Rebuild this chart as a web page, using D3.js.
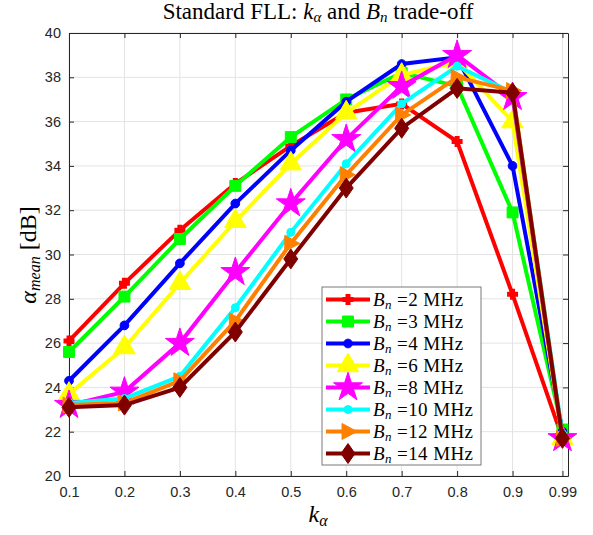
<!DOCTYPE html>
<html>
<head>
<meta charset="utf-8">
<script src="https://cdn.jsdelivr.net/npm/d3@7"></script>
<style>
  body { margin: 0; background: #fff; }
  svg { display: block; }
</style>
</head>
<body>
<div id="graph"></div>
<script>
// k_alpha values on the x axis
var kAlpha = [0.1, 0.2, 0.3, 0.4, 0.5, 0.6, 0.7, 0.8, 0.9, 0.99];
var xTicks = [0.1, 0.2, 0.3, 0.4, 0.5, 0.6, 0.7, 0.8, 0.9, 0.99];
var yTicks = [20, 22, 24, 26, 28, 30, 32, 34, 36, 38, 40];

// alpha_mean [dB] for each Bn
var bn2  = [26.1, 28.7, 31.1, 33.2, 34.9, 36.4, 36.8, 35.1, 28.2, 21.7];
var bn3  = [25.6, 28.1, 30.7, 33.1, 35.3, 37.0, 38.2, 37.6, 31.9, 22.1];
var bn4  = [24.3, 26.8, 29.6, 32.3, 34.7, 36.9, 38.6, 38.9, 34.0, 22.0];
var bn6  = [23.7, 25.8, 28.7, 31.5, 34.1, 36.4, 38.1, 38.7, 36.0, 21.7];
var bn8  = [23.2, 23.8, 26.0, 29.2, 32.3, 35.2, 37.6, 39.0, 37.1, 21.7];
var bn10 = [23.3, 23.5, 24.5, 27.6, 31.0, 34.1, 36.8, 38.5, 37.3, 21.9];
var bn12 = [23.2, 23.3, 24.3, 27.0, 30.5, 33.6, 36.3, 38.0, 37.4, 21.7];
var bn14 = [23.1, 23.2, 24.0, 26.5, 29.8, 33.0, 35.7, 37.5, 37.3, 21.7];

var seriesNames = ["2", "3", "4", "6", "8", "10", "12", "14"];
var seriesValues = [bn2, bn3, bn4, bn6, bn8, bn10, bn12, bn14];
var seriesColors = ["#ff0000", "#00ff00", "#0000ff", "#ffff00", "#ff00ff", "#00ffff", "#ff8000", "#800000"];
var seriesMarkers = ["plus", "square", "circle", "triangle", "star", "dot", "right", "diamond"];

var width = 593, height = 535;
var margin = {top: 33, right: 25, bottom: 59, left: 69};

var svg = d3.select("#graph").append("svg")
    .attr("width", width)
    .attr("height", height);

var x = d3.scaleLinear().domain([0.1, 1.0]).range([margin.left, width - margin.right]);
var y = d3.scaleLinear().domain([20, 40]).range([height - margin.bottom, margin.top]);

var serif = "'Liberation Serif', 'Times New Roman', serif";

// grid
svg.append("g").selectAll("line.vg")
    .data(xTicks).enter().append("line")
    .attr("x1", function(d) { return x(d); })
    .attr("x2", function(d) { return x(d); })
    .attr("y1", y(20)).attr("y2", y(40))
    .style("stroke", "#e3e3e3").style("stroke-width", 1);
svg.append("g").selectAll("line.hg")
    .data(yTicks).enter().append("line")
    .attr("y1", function(d) { return y(d); })
    .attr("y2", function(d) { return y(d); })
    .attr("x1", x(0.1)).attr("x2", x(1.0))
    .style("stroke", "#e3e3e3").style("stroke-width", 1);

// axes
var xAxis = svg.append("g")
    .attr("transform", "translate(0," + y(20) + ")")
    .call(d3.axisBottom(x).tickValues(xTicks).tickSizeInner(-5).tickSizeOuter(0)
        .tickFormat(function(d) { return String(d); }));
var xAxisTop = svg.append("g")
    .attr("transform", "translate(0," + y(40) + ")")
    .call(d3.axisTop(x).tickValues(xTicks).tickSizeInner(-5).tickSizeOuter(0).tickFormat(""));
var yAxis = svg.append("g")
    .attr("transform", "translate(" + x(0.1) + ",0)")
    .call(d3.axisLeft(y).tickValues(yTicks).tickSizeInner(-5).tickSizeOuter(0));
var yAxisRight = svg.append("g")
    .attr("transform", "translate(" + x(1.0) + ",0)")
    .call(d3.axisRight(y).tickValues(yTicks).tickSizeInner(-5).tickSizeOuter(0).tickFormat(""));

[xAxis, xAxisTop, yAxis, yAxisRight].forEach(function(a) {
    a.selectAll("path").style("stroke", "#262626").style("stroke-width", 1);
    a.selectAll("line").style("stroke", "#262626");
    a.selectAll("text").style("font-family", "'Liberation Sans', Arial, sans-serif")
        .style("font-size", "14.5px").style("fill", "#262626");
});
xAxis.selectAll("text").attr("dy", "1.25em");
yAxis.selectAll("text").attr("x", -8);

// markers
function markerPath(kind) {
    switch (kind) {
        case "plus": return d3.symbol().type(d3.symbolCross).size(45)();
        case "square": return d3.symbol().type(d3.symbolSquare).size(120)();
        case "circle": return d3.symbol().type(d3.symbolCircle).size(60)();
        case "triangle": return d3.symbol().type(d3.symbolTriangle).size(200)();
        case "star": return d3.symbol().type(d3.symbolStar).size(260)();
        case "dot": return d3.symbol().type(d3.symbolCircle).size(50)();
        case "right": return "M9,0L-6,-8L-6,8Z";
        case "diamond": return "M0,-10L7,0L0,10L-7,0Z";
    }
}

var line = d3.line()
    .x(function(d, i) { return x(kAlpha[i]); })
    .y(function(d) { return y(d); });

seriesValues.forEach(function(vals, s) {
    var g = svg.append("g");
    g.append("path")
        .attr("d", line(vals))
        .style("fill", "none")
        .style("stroke", seriesColors[s])
        .style("stroke-width", 4)
        .style("stroke-linejoin", "miter");
    g.selectAll("path.m").data(vals).enter().append("path")
        .attr("class", "m")
        .attr("d", markerPath(seriesMarkers[s]))
        .attr("transform", function(d, i) { return "translate(" + x(kAlpha[i]) + "," + y(d) + ")"; })
        .style("fill", seriesColors[s])
        .style("stroke", seriesColors[s])
        .style("stroke-width", seriesMarkers[s] == "plus" ? 2 : 1);
});

// legend
var lg = svg.append("g").attr("transform", "translate(322,287)");
lg.append("rect")
    .attr("width", 159).attr("height", 178)
    .style("fill", "#fff").style("stroke", "#7a7a7a").style("stroke-width", 1);
seriesNames.forEach(function(name, s) {
    var row = lg.append("g").attr("transform", "translate(0," + (12.5 + s * 22) + ")");
    row.append("line")
        .attr("x1", 4).attr("x2", 48).attr("y1", 0).attr("y2", 0)
        .style("stroke", seriesColors[s]).style("stroke-width", 4);
    row.append("path")
        .attr("d", markerPath(seriesMarkers[s]))
        .attr("transform", "translate(26,0)")
        .style("fill", seriesColors[s]).style("stroke", seriesColors[s])
        .style("stroke-width", seriesMarkers[s] == "plus" ? 2 : 1);
    var t = row.append("text")
        .attr("x", 51).attr("y", 6)
        .style("font-family", serif)
        .style("font-size", "19px").style("letter-spacing", "0.4px").style("fill", "#000");
    t.append("tspan").style("font-style", "italic").text("B");
    t.append("tspan").style("font-style", "italic").style("font-size", "13px").attr("dy", 3).text("n");
    t.append("tspan").attr("dy", -3).text(" =" + name + " MHz");
});

// title
var title = svg.append("text")
    .attr("x", 318).attr("y", 19)
    .attr("text-anchor", "middle")
    .style("font-family", serif)
    .style("font-size", "23px").style("fill", "#000");
title.append("tspan").text("Standard FLL: ");
title.append("tspan").style("font-style", "italic").text("k");
title.append("tspan").style("font-style", "italic").style("font-size", "15px").attr("dy", 3).text("α");
title.append("tspan").attr("dy", -3).text(" and ");
title.append("tspan").style("font-style", "italic").text("B");
title.append("tspan").style("font-style", "italic").style("font-size", "15px").attr("dy", 3).text("n");
title.append("tspan").attr("dy", -3).text(" trade-off");

// x label
var xl = svg.append("text")
    .attr("x", 318).attr("y", 522)
    .attr("text-anchor", "middle")
    .style("font-family", serif)
    .style("font-size", "24px").style("fill", "#000");
xl.append("tspan").style("font-style", "italic").text("k");
xl.append("tspan").style("font-style", "italic").style("font-size", "16px").attr("dy", 4).text("α");

// y label
var yl = svg.append("text")
    .attr("transform", "translate(36,255) rotate(-90)")
    .attr("text-anchor", "middle")
    .style("font-family", serif)
    .style("font-size", "24px").style("fill", "#000");
yl.append("tspan").style("font-style", "italic").text("α");
yl.append("tspan").style("font-style", "italic").style("font-size", "16px").attr("dy", 4).text("mean");
yl.append("tspan").attr("dy", -4).text(" [dB]");
</script>
</body>
</html>
